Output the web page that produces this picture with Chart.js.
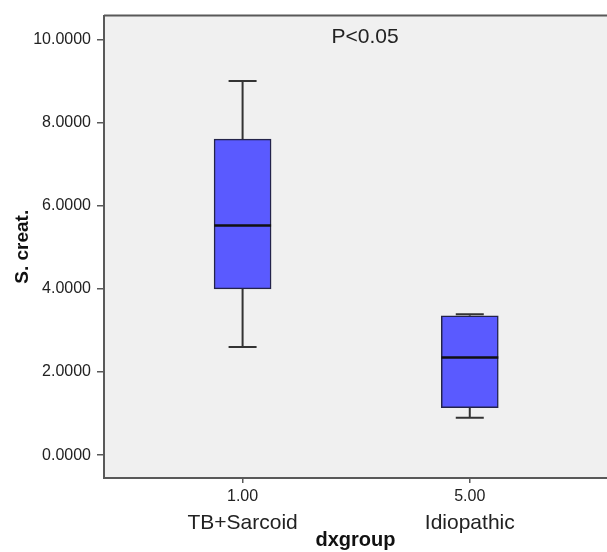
<!DOCTYPE html>
<html>
<head>
<meta charset="utf-8">
<script src="https://cdn.jsdelivr.net/npm/chart.js@4"></script>
<style>
  html, body { margin:0; padding:0; background:#fff; }
  #wrap { width:607px; height:552px; position:relative; }
</style>
</head>
<body>
<div id="wrap"><canvas id="boxChart"></canvas></div>
<script>
// ===============================
// data
// ===============================
const codes      = ['1.00', '5.00'];
const groups     = ['TB+Sarcoid', 'Idiopathic'];
const positions  = [1, 2];          // slot of each group on the x axis
const whiskerLow = [2.6, 0.9];
const q1         = [4.0, 1.14];
const medians    = [5.52, 2.35];
const q3         = [7.6, 3.35];
const whiskerHigh= [9.0, 3.39];

const yTicks  = [0, 2, 4, 6, 8, 10];
const yLabels = ['0.0000', '2.0000', '4.0000', '6.0000', '8.0000', '10.0000'];
const note = 'P<0.05';

const FONT = "'Liberation Sans', Arial, sans-serif";
const FRAME = '#595959';

// plot background + top frame line
const frame = {
  id:'frame',
  beforeDraw(chart){
    const {ctx, chartArea:a} = chart;
    ctx.save();
    ctx.fillStyle = '#f0f0f0';
    ctx.fillRect(a.left, a.top, a.right - a.left, a.bottom - a.top);
    ctx.strokeStyle = FRAME;
    ctx.lineWidth = 2;
    ctx.beginPath();
    ctx.moveTo(a.left, a.top);
    ctx.lineTo(a.right, a.top);
    ctx.stroke();
    ctx.restore();
  }
};

// whiskers, caps and median on top of the boxes
const whiskers = {
  id:'whiskers',
  afterDatasetsDraw(chart){
    const {ctx} = chart;
    const xs = chart.scales.x, ys = chart.scales.y;
    const meta = chart.getDatasetMeta(0);
    ctx.save();
    positions.forEach((p, i) => {
      const x = xs.getPixelForValue(p);
      const cap = 14;
      const yLo = ys.getPixelForValue(whiskerLow[i]);
      const yHi = ys.getPixelForValue(whiskerHigh[i]);
      const yQ1 = ys.getPixelForValue(q1[i]);
      const yQ3 = ys.getPixelForValue(q3[i]);
      ctx.strokeStyle = '#333';
      ctx.lineWidth = 2;
      ctx.beginPath();
      ctx.moveTo(x, yQ3); ctx.lineTo(x, yHi);
      ctx.moveTo(x - cap, yHi); ctx.lineTo(x + cap, yHi);
      ctx.moveTo(x, yQ1); ctx.lineTo(x, yLo);
      ctx.moveTo(x - cap, yLo); ctx.lineTo(x + cap, yLo);
      ctx.stroke();

      const half = meta.data[i].width / 2;
      const yM = ys.getPixelForValue(medians[i]);
      ctx.strokeStyle = '#111';
      ctx.lineWidth = 2.5;
      ctx.beginPath();
      ctx.moveTo(x - half, yM); ctx.lineTo(x + half, yM);
      ctx.stroke();
    });
    ctx.restore();
  }
};

// "P<0.05" note in the plot
const pNote = {
  id:'pNote',
  afterDraw(chart){
    const {ctx, chartArea:a} = chart;
    ctx.save();
    ctx.font = '21px ' + FONT;
    ctx.fillStyle = '#222';
    ctx.textAlign = 'center';
    ctx.textBaseline = 'middle';
    ctx.fillText(note, a.left + 261, a.top + 22);
    ctx.restore();
  }
};

function setXTicks(scale){
  scale.ticks = positions.map(v => ({value:v}));
}

const ctx = document.getElementById('boxChart');
new Chart(ctx, {
  type:'bar',
  data:{
    datasets:[{
      data: positions.map((p, i) => ({x:p, y:[q1[i], q3[i]]})),
      backgroundColor:'#5a5aff',
      borderColor:'#23234a',
      borderWidth:1.5,
      borderSkipped:false,
      barThickness:57
    }]
  },
  options:{
    responsive:true,
    maintainAspectRatio:false,
    animation:false,
    events:[],
    layout:{ padding:{ top:15, right:0, bottom:0, left:0 } },
    plugins:{ legend:{display:false}, tooltip:{enabled:false} },
    scales:{
      x:{
        type:'linear',
        position:'bottom',
        offset:false,
        weight:0,
        min:0.39,
        max:2.604,
        afterBuildTicks:setXTicks,
        afterFit(s){ s.height = 30; },
        grid:{ offset:false, drawOnChartArea:false, drawTicks:true, tickLength:5, color:FRAME, lineWidth:1.5 },
        border:{ display:true, color:FRAME, width:2 },
        ticks:{
          color:'#222',
          padding:4,
          maxRotation:0,
          autoSkip:false,
          font:{ family:FONT, size:16 },
          callback:(v) => codes[positions.indexOf(v)]
        }
      },
      x2:{
        type:'linear',
        position:'bottom',
        offset:false,
        weight:1,
        min:0.39,
        max:2.604,
        afterBuildTicks:setXTicks,
        afterFit(s){ s.height = 44; },
        grid:{ display:false, drawTicks:false, offset:false },
        border:{ display:false },
        ticks:{
          color:'#222',
          padding:3,
          maxRotation:0,
          autoSkip:false,
          font:{ family:FONT, size:21 },
          callback:(v) => groups[positions.indexOf(v)]
        },
        title:{
          display:true,
          text:'dxgroup',
          color:'#111',
          padding:{ top:0, bottom:0 },
          font:{ family:FONT, size:20, weight:'bold' }
        }
      },
      y:{
        min:-0.55,
        max:10.57,
        afterBuildTicks(s){ s.ticks = yTicks.map(v => ({value:v})); },
        afterFit(s){ s.width = 104; },
        grid:{ drawOnChartArea:false, drawTicks:true, tickLength:7, color:FRAME, lineWidth:1.5 },
        border:{ display:true, color:FRAME, width:2 },
        ticks:{
          color:'#222',
          padding:6,
          font:{ family:FONT, size:16 },
          callback:(v) => yLabels[yTicks.indexOf(v)]
        },
        title:{
          display:true,
          text:'S. creat.',
          color:'#111',
          padding:{ top:11, bottom:0 },
          font:{ family:FONT, size:19, weight:'bold' }
        }
      }
    }
  },
  plugins:[frame, whiskers, pNote]
});
</script>
</body>
</html>
